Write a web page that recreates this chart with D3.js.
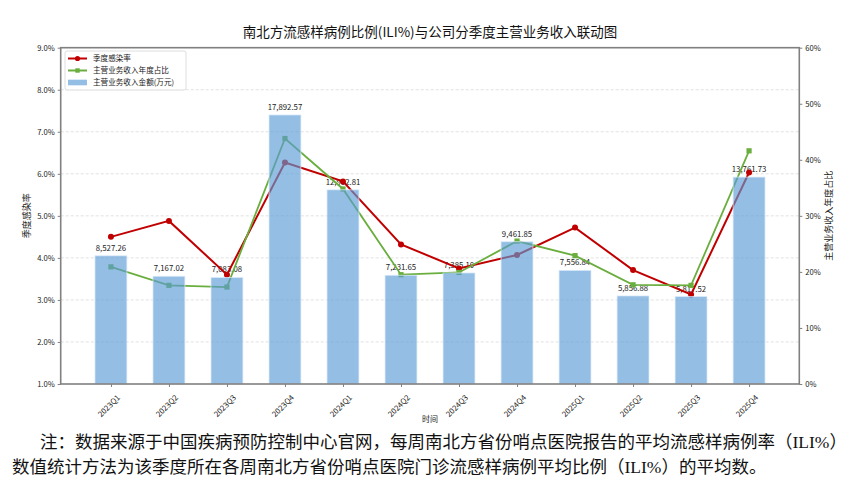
<!DOCTYPE html>
<html>
<head>
<meta charset="utf-8">
<script src="https://cdn.jsdelivr.net/npm/d3@7"></script>
<style>
  body { margin: 0; background: #fff; }
  svg { display: block; }
</style>
</head>
<body>
<svg id="chart" width="865" height="484"></svg>
<script>
// quarters on the x axis
const quarters = ['2023Q1', '2023Q2', '2023Q3', '2023Q4', '2024Q1', '2024Q2',
                  '2024Q3', '2024Q4', '2025Q1', '2025Q2', '2025Q3', '2025Q4'];
// 主营业务收入金额 (万元)
const revenue = [8527.26, 7167.02, 7083.08, 17892.57, 12912.81, 7231.65,
                 7385.10, 9461.85, 7556.84, 5856.88, 5817.52, 13761.73];
// 季度感染率 (%) - left axis
const iliRate = [4.50, 4.88, 3.60, 6.27, 5.82, 4.32, 3.75, 4.07, 4.72, 3.71, 3.13, 6.03];
// 主营业务收入年度占比 (%) - right axis
const revShare = [20.9, 17.6, 17.3, 43.8, 34.8, 19.5, 19.9, 25.5, 22.9, 17.7, 17.6, 41.6];

const leftTicks = [1, 2, 3, 4, 5, 6, 7, 8, 9];
const rightTicks = [0, 10, 20, 30, 40, 50, 60];

const svg = d3.select('#chart');
const margin = { top: 47.7, right: 65.7, bottom: 100, left: 60.7 };
const W = 865, H = 484;
const x0 = margin.left, x1 = W - margin.right;
const y0 = H - margin.bottom, y1 = margin.top;

const cjk = '"Noto Sans CJK SC", "Noto Sans", sans-serif';

const x = d3.scalePoint().domain(quarters).range([x0, x1]).padding(0.866);
const step = x.step();
const yLeft = d3.scaleLinear().domain([1, 9]).range([y0, y1]);
const yRight = d3.scaleLinear().domain([0, 60]).range([y0, y1]);
const yBar = d3.scaleLinear().domain([0, d3.max(revenue) * 1.25]).range([y0, y1]);

// title
svg.append('text')
    .attr('x', (x0 + x1) / 2).attr('y', 37)
    .attr('text-anchor', 'middle')
    .style('font-family', cjk).style('font-size', '13.5px').style('fill', '#111')
    .text('南北方流感样病例比例(ILI%)与公司分季度主营业务收入联动图');

// grid lines (left axis)
svg.append('g').selectAll('line')
    .data(leftTicks.slice(1, -1))
    .enter().append('line')
    .attr('x1', x0).attr('x2', x1)
    .attr('y1', d => yLeft(d)).attr('y2', d => yLeft(d))
    .style('stroke', '#d9d9d9').style('stroke-width', 0.8)
    .style('stroke-dasharray', '3,2');

// value labels above bars (drawn first; lines cross over them)
svg.append('g').selectAll('text')
    .data(revenue)
    .enter().append('text')
    .attr('x', (d, i) => x(quarters[i]))
    .attr('y', d => yBar(d) - 5)
    .attr('text-anchor', 'middle')
    .style('font-family', cjk).style('font-size', '7.8px').style('fill', '#222')
    .text(d => d3.format(',.2f')(d));

// red line: 季度感染率
const redLine = d3.line().x((d, i) => x(quarters[i])).y(d => yLeft(d));
svg.append('path').datum(iliRate)
    .attr('d', redLine)
    .style('fill', 'none').style('stroke', '#C00000').style('stroke-width', 2);
svg.append('g').selectAll('circle')
    .data(iliRate)
    .enter().append('circle')
    .attr('cx', (d, i) => x(quarters[i])).attr('cy', d => yLeft(d))
    .attr('r', 3).style('fill', '#C00000');

// green line: 主营业务收入年度占比
const greenLine = d3.line().x((d, i) => x(quarters[i])).y(d => yRight(d));
svg.append('path').datum(revShare)
    .attr('d', greenLine)
    .style('fill', 'none').style('stroke', '#6AAE3E').style('stroke-width', 1.8);
svg.append('g').selectAll('rect')
    .data(revShare)
    .enter().append('rect')
    .attr('x', (d, i) => x(quarters[i]) - 2.6).attr('y', d => yRight(d) - 2.6)
    .attr('width', 5.2).attr('height', 5.2)
    .style('fill', '#6AAE3E');

// bars (semi transparent, on top of the lines)
const barW = step * 0.55;
svg.append('g').selectAll('rect')
    .data(revenue)
    .enter().append('rect')
    .attr('x', (d, i) => x(quarters[i]) - barW / 2)
    .attr('y', d => yBar(d))
    .attr('width', barW)
    .attr('height', d => y0 - yBar(d))
    .style('fill', 'rgba(91,155,213,0.65)')
    .style('stroke', 'rgba(220,235,250,0.9)').style('stroke-width', 0.8);

// frame
const spine = '#808080';
svg.append('rect')
    .attr('x', x0).attr('y', y1).attr('width', x1 - x0).attr('height', y0 - y1)
    .style('fill', 'none').style('stroke', spine).style('stroke-width', 1.6);

// left axis
const gl = svg.append('g').attr('transform', `translate(${x0},0)`)
    .call(d3.axisLeft(yLeft).tickValues(leftTicks).tickSize(3).tickPadding(3)
        .tickFormat(d => d3.format('.1f')(d) + '%'));
gl.select('.domain').remove();
gl.selectAll('.tick line').style('stroke', spine);
gl.selectAll('text').style('font-family', cjk).style('font-size', '7.6px').style('fill', '#1a1a1a');

// right axis
const gr = svg.append('g').attr('transform', `translate(${x1},0)`)
    .call(d3.axisRight(yRight).tickValues(rightTicks).tickSize(3).tickPadding(3)
        .tickFormat(d => d + '%'));
gr.select('.domain').remove();
gr.selectAll('.tick line').style('stroke', spine);
gr.selectAll('text').style('font-family', cjk).style('font-size', '7.6px').style('fill', '#1a1a1a');

// bottom axis
const gb = svg.append('g').attr('transform', `translate(0,${y0})`)
    .call(d3.axisBottom(x).tickSize(3).tickPadding(3));
gb.select('.domain').remove();
gb.selectAll('.tick line').style('stroke', spine);
gb.selectAll('text')
    .style('font-family', cjk).style('font-size', '7.8px').style('fill', '#1a1a1a')
    .attr('text-anchor', 'end')
    .attr('dy', '0.35em')
    .attr('transform', 'translate(3,8) rotate(-45)');

// axis titles
svg.append('text')
    .attr('transform', `translate(30,${(y0 + y1) / 2}) rotate(-90)`)
    .attr('text-anchor', 'middle')
    .style('font-family', cjk).style('font-size', '9px').style('fill', '#1a1a1a')
    .text('季度感染率');
svg.append('text')
    .attr('transform', `translate(832,${(y0 + y1) / 2}) rotate(-90)`)
    .attr('text-anchor', 'middle')
    .style('font-family', cjk).style('font-size', '9px').style('fill', '#1a1a1a')
    .text('主营业务收入年度占比');
svg.append('text')
    .attr('x', (x0 + x1) / 2).attr('y', 422)
    .attr('text-anchor', 'middle')
    .style('font-family', cjk).style('font-size', '8px').style('fill', '#1a1a1a')
    .text('时间');

// legend
const legendItems = [
    { label: '季度感染率', type: 'circle', color: '#C00000' },
    { label: '主营业务收入年度占比', type: 'square', color: '#6AAE3E' },
    { label: '主营业务收入金额(万元)', type: 'bar', color: 'rgba(91,155,213,0.65)' }
];
const lg = svg.append('g').attr('transform', 'translate(65,51)');
lg.append('rect')
    .attr('width', 121).attr('height', 39).attr('rx', 2)
    .style('fill', 'rgba(255,255,255,0.85)').style('stroke', '#d6d6d6').style('stroke-width', 0.8);
const li = lg.selectAll('g.item')
    .data(legendItems)
    .enter().append('g')
    .attr('class', 'item')
    .attr('transform', (d, i) => `translate(0,${7.5 + i * 12})`);
li.filter(d => d.type !== 'bar').append('line')
    .attr('x1', 3).attr('x2', 22).attr('y1', 0).attr('y2', 0)
    .style('stroke', d => d.color).style('stroke-width', 2);
li.filter(d => d.type === 'circle').append('circle')
    .attr('cx', 12.5).attr('cy', 0).attr('r', 2.6).style('fill', d => d.color);
li.filter(d => d.type === 'square').append('rect')
    .attr('x', 10.3).attr('y', -2.2).attr('width', 4.4).attr('height', 4.4).style('fill', d => d.color);
li.filter(d => d.type === 'bar').append('rect')
    .attr('x', 3).attr('y', -2.8).attr('width', 19).attr('height', 5.6).style('fill', d => d.color);
li.append('text')
    .attr('x', 28).attr('y', 0).attr('dy', '0.35em')
    .style('font-family', cjk).style('font-size', '7.6px').style('fill', '#1a1a1a')
    .text(d => d.label);

// footnote
const noteFont = '"Liberation Serif", "Noto Sans CJK SC", serif';
const notes = [
    { text: '注：数据来源于中国疾病预防控制中心官网，每周南北方省份哨点医院报告的平均流感样病例率（ILI%）', x: 40, y: 448 },
    { text: '数值统计方法为该季度所在各周南北方省份哨点医院门诊流感样病例平均比例（ILI%）的平均数。', x: 12, y: 473 }
];
svg.append('g').selectAll('text')
    .data(notes)
    .enter().append('text')
    .attr('x', d => d.x).attr('y', d => d.y)
    .style('font-family', noteFont).style('font-size', '17.5px').style('fill', '#111')
    .text(d => d.text);
</script>
</body>
</html>
